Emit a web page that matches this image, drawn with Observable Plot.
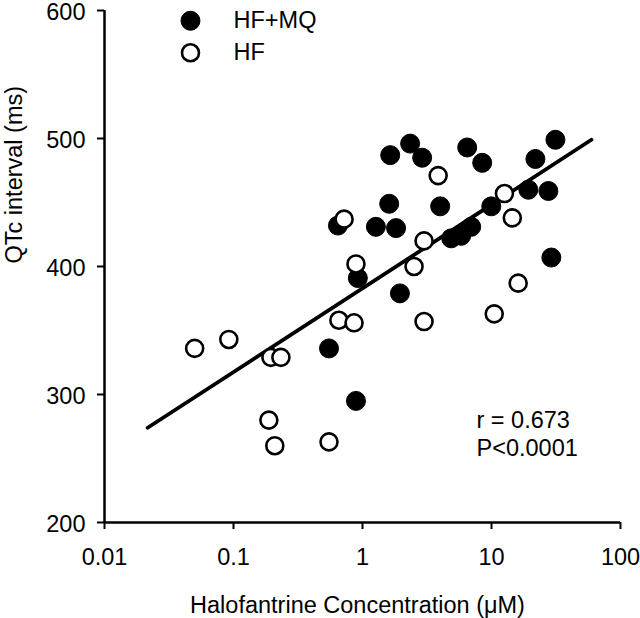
<!DOCTYPE html>
<html>
<head>
<meta charset="utf-8">
<script src="https://cdn.jsdelivr.net/npm/d3@7"></script>
<script src="https://cdn.jsdelivr.net/npm/@observablehq/plot@0.6"></script>
<style>
  html, body { margin: 0; padding: 0; background: #fff; }
  #chart { width: 640px; height: 618px; }
</style>
</head>
<body>
<div id="chart"></div>
<script>
// HF group (open circles)
const hfConc = [0.05, 0.092, 0.195, 0.233, 0.188, 0.209, 0.55, 0.656, 0.86, 0.89, 0.72, 2.51, 3.0, 3.0, 3.86, 10.5, 12.6, 14.5, 16.1];
const hfQTc  = [336, 343, 329, 329, 280, 260, 263, 358, 356, 402, 437, 400, 357, 420, 471, 363, 457, 438, 387];
// HF+MQ group (filled circles)
const mqConc = [0.55, 0.89, 0.645, 0.92, 1.95, 1.27, 1.82, 1.61, 1.64, 2.34, 2.90, 4.0, 4.87, 5.82, 6.96, 6.48, 8.47, 9.96, 19.3, 27.6, 21.9, 31.3, 29.1];
const mqQTc  = [336, 295, 432, 391, 379, 431, 430, 449, 487, 496, 485, 447, 422, 424, 431, 493, 481, 447, 460, 459, 484, 499, 407];
// regression line end points
const fitConc = [0.0216, 59.5];
const fitQTc  = [274, 499];
// ticks and labels
const xTicks = [0.01, 0.1, 1, 10, 100];
const xTickLabels = ["0.01", "0.1", "1", "10", "100"];
const yTicks = [200, 300, 400, 500, 600];
const legendLabels = ["HF+MQ", "HF"];
const statLines = ["r = 0.673", "P<0.0001"];
const xTitle = "Halofantrine Concentration (μM)";
const yTitle = "QTc interval (ms)";

const hf = hfConc.map((c, i) => ({c, q: hfQTc[i]}));
const mq = mqConc.map((c, i) => ({c, q: mqQTc[i]}));
const fit = fitConc.map((c, i) => ({c, q: fitQTc[i]}));

const font = "'Liberation Sans', Arial, Helvetica, sans-serif";
const fs = 23.5;
const R = 9.5;

const legendFilled = [{label: legendLabels[0], y: 592}];
const legendOpen = [{label: legendLabels[1], y: 567}];
const stats = [
  {label: statLines[0], y: 274.2},
  {label: statLines[1], y: 252.3}
];

const chart = Plot.plot({
  width: 640,
  height: 618,
  marginLeft: 104,
  marginRight: 20,
  marginTop: 10,
  marginBottom: 96,
  style: {fontFamily: font, fontSize: fs + "px", background: "white", color: "black", overflow: "visible"},
  x: {type: "log", domain: [0.01, 100], axis: null},
  y: {domain: [200, 600], axis: null},
  marks: [
    Plot.axisX({ticks: xTicks, tickFormat: d => xTickLabels[xTicks.indexOf(d)], tickSize: 7, tickPadding: 19, strokeWidth: 2, fontSize: fs, label: null}),
    Plot.axisY({ticks: yTicks, tickSize: 7, strokeWidth: 2, text: null, label: null}),
    Plot.axisY({ticks: yTicks, tickSize: 0, tickPadding: 19, fontSize: fs, label: null, dy: 1.5}),
    Plot.ruleY([200], {stroke: "black", strokeWidth: 2.5}),
    Plot.ruleX([0.01], {stroke: "black", strokeWidth: 2.5}),
    Plot.line(fit, {x: "c", y: "q", stroke: "black", strokeWidth: 3.8}),
    Plot.dot(mq, {x: "c", y: "q", r: R, fill: "black", stroke: "black", strokeWidth: 1}),
    Plot.dot(hf, {x: "c", y: "q", r: R - 1, fill: "white", stroke: "black", strokeWidth: 2.6}),
    // legend
    Plot.dot(legendFilled, {x: () => 0.0464, y: "y", r: R, fill: "black", stroke: "black", strokeWidth: 1}),
    Plot.dot(legendOpen, {x: () => 0.0464, y: "y", r: R - 1, fill: "white", stroke: "black", strokeWidth: 2.6}),
    Plot.text(legendFilled.concat(legendOpen), {x: () => 0.1, y: "y", text: "label", textAnchor: "start", lineAnchor: "middle", fontSize: fs, fill: "black"}),
    // statistics
    Plot.text(stats, {x: () => 7.65, y: "y", text: "label", textAnchor: "start", lineAnchor: "bottom", fontSize: fs, fill: "black"}),
    // axis titles
    Plot.text([xTitle], {frameAnchor: "bottom", dx: -5, dy: 90, lineAnchor: "bottom", fontSize: fs, fill: "black"}),
    Plot.text([yTitle], {frameAnchor: "left", dx: -90, dy: -3, rotate: -90, lineAnchor: "middle", fontSize: fs, fill: "black"})
  ]
});
document.getElementById("chart").appendChild(chart);
</script>
</body>
</html>
